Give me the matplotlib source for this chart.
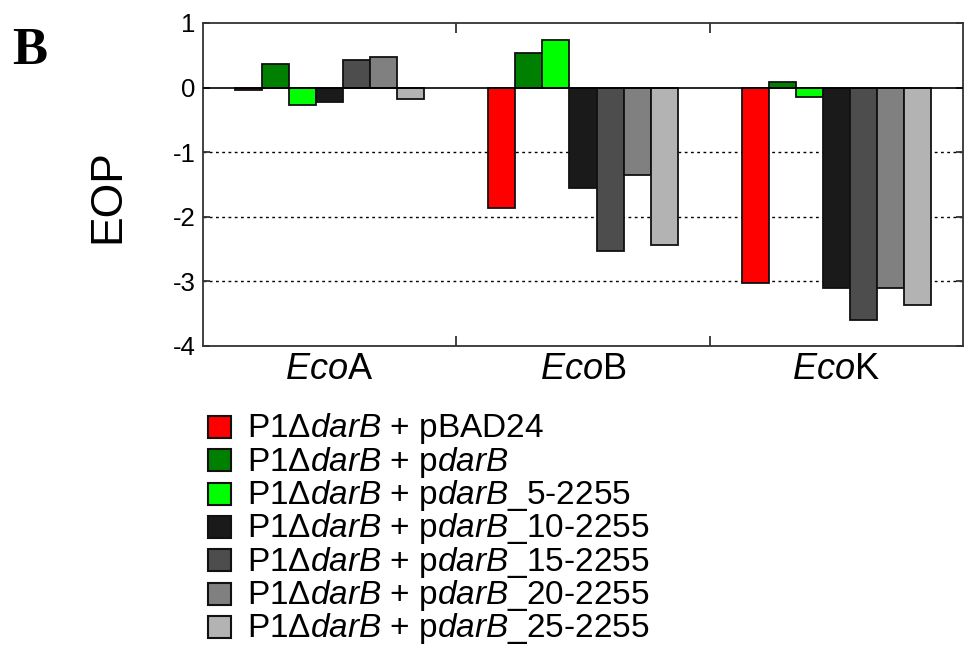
import matplotlib
matplotlib.use("Agg")
import matplotlib.pyplot as plt
import numpy as np
from matplotlib.patches import Rectangle

plt.rcParams["font.family"] = ["Liberation Sans", "DejaVu Sans"]
plt.rcParams["mathtext.fontset"] = "custom"
plt.rcParams["mathtext.rm"] = "Liberation Sans"
plt.rcParams["mathtext.it"] = "Liberation Sans:italic"

# data
groups = [r"$\it{Eco}$A", r"$\it{Eco}$B", r"$\it{Eco}$K"]
series_labels = [
    r"P1Δ$\it{darB}$ + pBAD24",
    r"P1Δ$\it{darB}$ + p$\it{darB}$",
    r"P1Δ$\it{darB}$ + p$\it{darB}$_5-2255",
    r"P1Δ$\it{darB}$ + p$\it{darB}$_10-2255",
    r"P1Δ$\it{darB}$ + p$\it{darB}$_15-2255",
    r"P1Δ$\it{darB}$ + p$\it{darB}$_20-2255",
    r"P1Δ$\it{darB}$ + p$\it{darB}$_25-2255",
]
colors = ["#ff0000", "#008000", "#00ff00", "#1a1a1a", "#4d4d4d", "#808080", "#b3b3b3"]
eco_a = [-0.04, 0.36, -0.27, -0.22, 0.42, 0.47, -0.18]
eco_b = [-1.87, 0.53, 0.74, -1.56, -2.53, -1.35, -2.43]
eco_k = [-3.02, 0.08, -0.15, -3.11, -3.60, -3.10, -3.37]
values = np.array([eco_a, eco_b, eco_k])

W, H = 972, 656
fig = plt.figure(figsize=(W / 100, H / 100), dpi=100)
ax = fig.add_axes([0.2088, 0.4726, 0.782, 0.4924])

width = 0.1067
centers = np.arange(len(groups)) + 0.5
for j in range(len(series_labels)):
    ax.bar(centers + (j - 3) * width, values[:, j], width=width,
           color=colors[j], edgecolor="#111111", linewidth=1.3, zorder=3)

ax.axhline(0, color="black", linewidth=1.2, zorder=4)
for yv in [-1, -2, -3]:
    ax.axhline(yv, color="black", linewidth=1.0, linestyle=(0, (2, 2.5)), zorder=1)

ax.set_xlim(0, 3)
ax.set_ylim(-4, 1)
ax.set_yticks([1, 0, -1, -2, -3, -4])
ax.set_yticklabels(["1", "0", "-1", "-2", "-3", "-4"], fontsize=18.5)
ax.set_xticks([1, 2])
ax.set_xticklabels([])
ax.tick_params(axis="x", direction="in", length=7, width=1.3, top=True, bottom=True, color="#333333")
ax.tick_params(axis="y", direction="in", length=5, width=1.3, left=True, right=True, color="#333333", pad=5.5)
for c, g in zip(centers, groups):
    ax.text(c, -4.1, g, ha="center", va="top", fontsize=26)
for s in ax.spines.values():
    s.set_linewidth(1.3)
    s.set_color("#333333")

fig.text(0.111, 0.701, "EOP", rotation=90, ha="center", va="center", fontsize=32)
fig.text(0.013, 0.922, "B", fontsize=38, fontweight="bold",
         family=["Liberation Serif", "DejaVu Serif"], ha="left", va="center")

# legend drawn row by row (pixel layout from the reference)
row0, row_step = 427, 33.3
for i, (c, lab) in enumerate(zip(colors, series_labels)):
    yc = row0 + i * row_step
    fig.patches.append(Rectangle((208 / W, 1 - (yc + 11) / H), 23 / W, 22 / H,
                                 transform=fig.transFigure, facecolor=c,
                                 edgecolor="#111111", linewidth=1.5))
    fig.text(247 / W, 1 - (yc + 10.5) / H, lab, ha="left", va="baseline", fontsize=24)

fig.savefig("out.png", dpi=100)
